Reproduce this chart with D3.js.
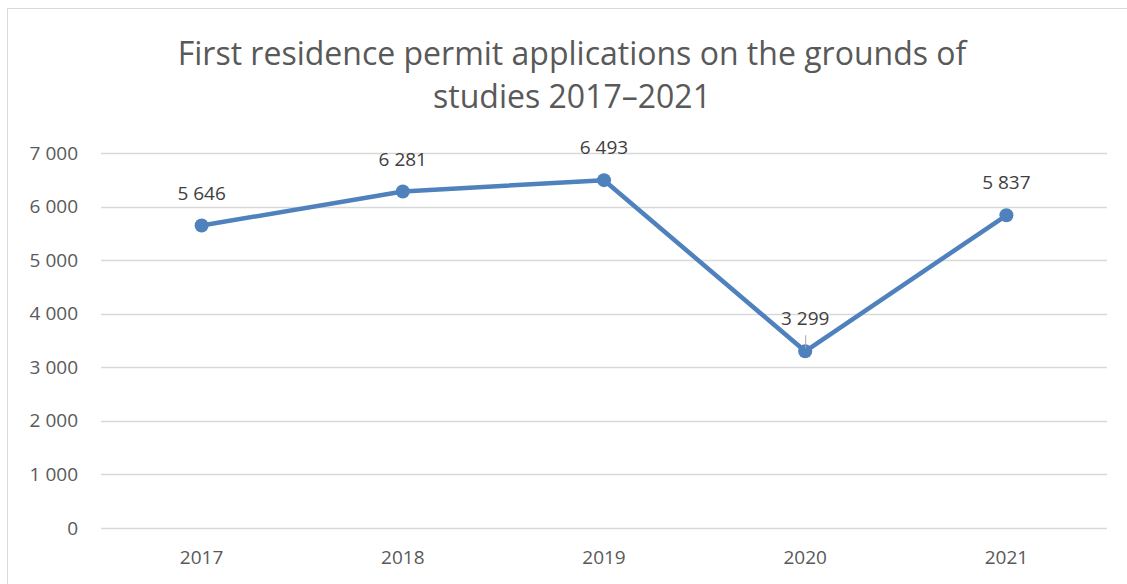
<!DOCTYPE html>
<html>
<head>
<meta charset="utf-8">
<script src="https://cdn.jsdelivr.net/npm/d3@7"></script>
<style>
  body { margin: 0; background: #fff; }
  text { font-family: "Open Sans", sans-serif; }
</style>
</head>
<body>
<script>
  const years = ['2017', '2018', '2019', '2020', '2021'];
  const applications = [5646, 6281, 6493, 3299, 5837];
  const yTicks = [0, 1000, 2000, 3000, 4000, 5000, 6000, 7000];
  const titleLines = ['First residence permit applications on the grounds of', 'studies 2017\u20132021'];

  const width = 1127;
  const height = 584;
  const margin = { top: 153, right: 20, bottom: 56, left: 101 };
  const lineColor = '#4f81bd';
  const textColor = '#595959';
  const labelSize = 19;

  const fmt = (v) => d3.format(',')(v).replace(/,/g, ' ');

  const data = years.map((d, i) => ({ year: d, value: applications[i] }));

  const svg = d3.select('body')
    .append('svg')
    .attr('width', width)
    .attr('height', height);

  // chart frame
  svg.append('rect')
    .attr('x', 7.5)
    .attr('y', 8.5)
    .attr('width', width + 20)
    .attr('height', height + 20)
    .attr('fill', '#fff')
    .attr('stroke', '#d9d9d9');

  const xScale = d3.scaleBand()
    .domain(years)
    .range([margin.left, 1107]);

  const yScale = d3.scaleLinear()
    .domain([0, 7000])
    .range([528, margin.top]);

  // title
  svg.append('g')
    .selectAll('text')
    .data(titleLines)
    .join('text')
    .attr('x', 572)
    .attr('y', (d, i) => 65 + i * 43)
    .attr('text-anchor', 'middle')
    .attr('fill', textColor)
    .attr('font-size', 32)
    .text((d) => d);

  // gridlines
  svg.append('g')
    .selectAll('line')
    .data(yTicks)
    .join('line')
    .attr('x1', margin.left)
    .attr('x2', 1107)
    .attr('y1', (d) => Math.round(yScale(d)) + 0.5)
    .attr('y2', (d) => Math.round(yScale(d)) + 0.5)
    .attr('stroke', '#d9d9d9')
    .attr('stroke-width', 1.3);

  // y axis
  const yAxis = svg.append('g')
    .attr('transform', `translate(${margin.left - 23}, 0)`)
    .call(d3.axisLeft(yScale).tickValues(yTicks).tickFormat(fmt).tickSize(0).tickPadding(0));
  yAxis.select('.domain').remove();
  yAxis.selectAll('text')
    .attr('font-size', labelSize)
    .attr('fill', textColor)
    .style('font-family', '"Open Sans", sans-serif');

  // x axis
  const xAxis = svg.append('g')
    .attr('transform', 'translate(0, 528)')
    .call(d3.axisBottom(xScale).tickSize(0).tickPadding(23));
  xAxis.select('.domain').remove();
  xAxis.selectAll('text')
    .attr('font-size', labelSize)
    .attr('fill', textColor)
    .style('font-family', '"Open Sans", sans-serif');

  const cx = (d) => xScale(d.year) + xScale.bandwidth() / 2;

  // line
  svg.append('path')
    .datum(data)
    .attr('fill', 'none')
    .attr('stroke', lineColor)
    .attr('stroke-width', 4.5)
    .attr('stroke-linejoin', 'round')
    .attr('d', d3.line().x(cx).y((d) => yScale(d.value)));

  // markers
  svg.append('g')
    .selectAll('circle')
    .data(data)
    .join('circle')
    .attr('cx', cx)
    .attr('cy', (d) => yScale(d.value))
    .attr('r', 7)
    .attr('fill', lineColor);

  // leader line for the low point
  svg.append('line')
    .datum(data[3])
    .attr('x1', (d) => cx(d) + 0.5)
    .attr('x2', (d) => cx(d) + 0.5)
    .attr('y1', (d) => yScale(d.value) - 16)
    .attr('y2', (d) => yScale(d.value) - 3)
    .attr('stroke', '#a6a6a6')
    .attr('stroke-width', 1);

  // data labels
  svg.append('g')
    .selectAll('text')
    .data(data)
    .join('text')
    .attr('x', cx)
    .attr('y', (d) => yScale(d.value) - 26)
    .attr('text-anchor', 'middle')
    .attr('fill', '#404040')
    .attr('font-size', labelSize)
    .text((d) => fmt(d.value));
</script>
</body>
</html>
